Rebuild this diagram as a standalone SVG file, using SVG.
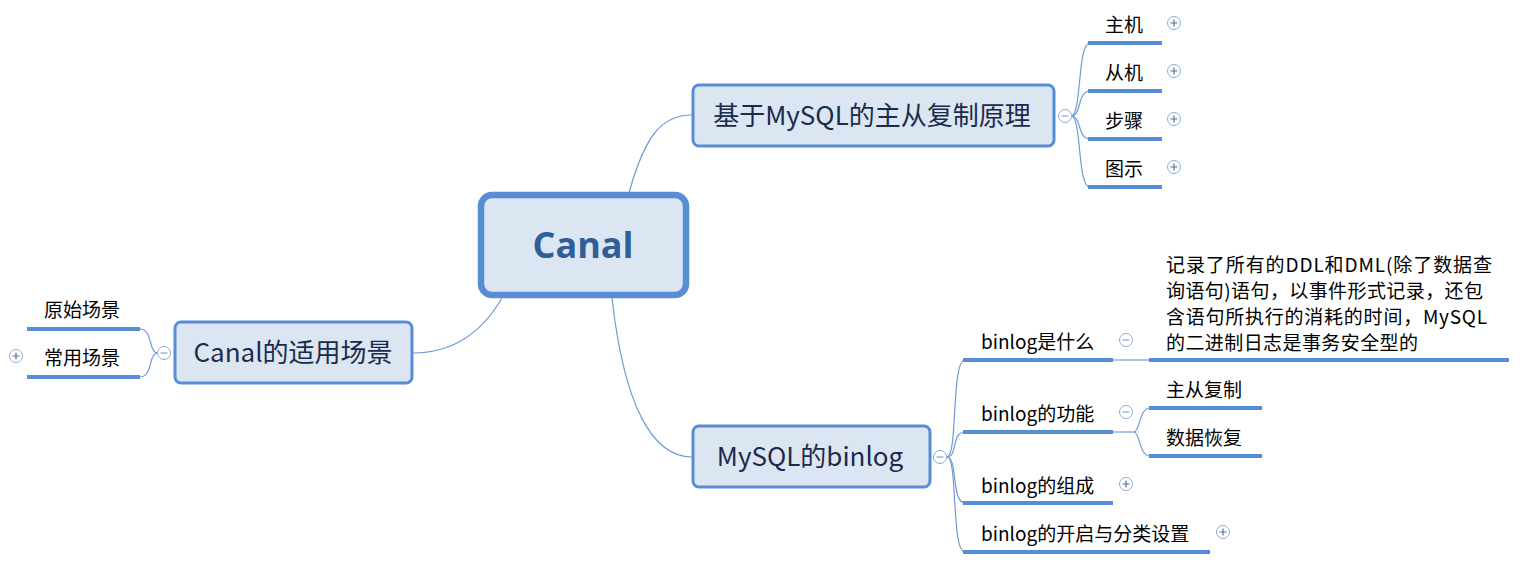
<svg xmlns="http://www.w3.org/2000/svg" width="1533" height="562" viewBox="0 0 1533 562">
<style>
.bg{fill:#ffffff}
.node rect.box{fill:#dce6f2;stroke:#588dd5;stroke-width:3}
.main{font-family:"Noto Sans CJK SC","Liberation Sans",sans-serif;font-size:26px;fill:#1a2c4c}
.root{font-family:"Open Sans","Liberation Sans",sans-serif;font-weight:bold;font-size:36px;fill:#2f5f96}
.sub{font-family:"Noto Sans CJK SC","Liberation Sans",sans-serif;font-size:19px;fill:#000000}
.ul{stroke:#558ed5;stroke-width:4;fill:none}
.conn path{fill:none;stroke:#6e9bd6;stroke-width:1.2}
.conn line.lt{stroke:#a9c3e8;stroke-width:2}
.tog circle{fill:#ffffff;stroke:#8aaedd;stroke-width:1}
.tog path{stroke:#56709a;stroke-width:1.2;fill:none}
.tog.m path{stroke:#8aa3c6}
</style>
<rect class="bg" x="0" y="0" width="1533" height="562"/>

<g id="connectors" class="conn">
  <path d="M629,193 C645,135 662,115 692,115"/>
  <path d="M502,298 C488,322 462,353 413,353"/>
  <path d="M612,298 C624,405 652,457 692,457"/>
  <path d="M1071,116 C1082,116 1077,43 1090,43"/>
  <path d="M1071,116 C1082,116 1077,91 1090,91"/>
  <path d="M1071,116 C1082,116 1077,139 1090,139"/>
  <path d="M1071,116 C1082,116 1077,187 1090,187"/>
  <path d="M158,353 C148,353 153,329 140,329"/>
  <path d="M158,353 C148,353 153,377 140,377"/>
  <path d="M947,457 C958,457 951,360 965,360"/>
  <path d="M947,457 C958,457 951,432 965,432"/>
  <path d="M947,457 C958,457 951,503 965,503"/>
  <path d="M947,457 C958,457 951,552 965,552"/>
  <line class="lt" x1="1113" y1="360" x2="1149" y2="360"/>
  <line class="lt" x1="1113" y1="432" x2="1134" y2="432"/>
  <path d="M1134,432 C1140,432 1139,408 1150,408"/>
  <path d="M1134,432 C1140,432 1139,456 1150,456"/>
</g>

<g id="node-canal" class="node">
  <rect x="481" y="195" width="205" height="100" rx="11" fill="#dce6f2" stroke="#588dd5" stroke-width="6.5"/>
  <text class="root" x="583" y="258" text-anchor="middle">Canal</text>
</g>

<g id="node-principle" class="node">
  <rect class="box" x="693" y="85" width="361" height="61" rx="6"/>
  <text class="main" x="872" y="125" text-anchor="middle">基于MySQL的主从复制原理</text>
  <g class="tog m"><circle cx="1065" cy="116" r="6.5"/><path d="M1061.5,116 H1068.5"/></g>
</g>

<g id="node-scenes" class="node">
  <rect class="box" x="175" y="322" width="237" height="61" rx="6"/>
  <text class="main" x="293" y="362" text-anchor="middle">Canal的适用场景</text>
  <g class="tog m"><circle cx="164" cy="353" r="6.5"/><path d="M160.5,353 H167.5"/></g>
</g>

<g id="node-binlog" class="node">
  <rect class="box" x="693" y="426" width="237" height="61" rx="6"/>
  <text class="main" x="810" y="466" text-anchor="middle">MySQL的binlog</text>
  <g class="tog m"><circle cx="940" cy="457" r="6.5"/><path d="M936.5,457 H943.5"/></g>
</g>

<g id="node-master">
  <text class="sub" x="1105" y="32">主机</text>
  <line class="ul" x1="1088" y1="43" x2="1162" y2="43"/>
  <g class="tog"><circle cx="1174" cy="23" r="6.5"/><path d="M1170.5,23 H1177.5 M1174,19.5 V26.5"/></g>
</g>
<g id="node-slave">
  <text class="sub" x="1105" y="80">从机</text>
  <line class="ul" x1="1088" y1="91" x2="1162" y2="91"/>
  <g class="tog"><circle cx="1174" cy="71" r="6.5"/><path d="M1170.5,71 H1177.5 M1174,67.5 V74.5"/></g>
</g>
<g id="node-steps">
  <text class="sub" x="1105" y="128">步骤</text>
  <line class="ul" x1="1088" y1="139" x2="1162" y2="139"/>
  <g class="tog"><circle cx="1174" cy="119" r="6.5"/><path d="M1170.5,119 H1177.5 M1174,115.5 V122.5"/></g>
</g>
<g id="node-figure">
  <text class="sub" x="1105" y="176">图示</text>
  <line class="ul" x1="1088" y1="187" x2="1162" y2="187"/>
  <g class="tog"><circle cx="1174" cy="167" r="6.5"/><path d="M1170.5,167 H1177.5 M1174,163.5 V170.5"/></g>
</g>

<g id="node-original">
  <text class="sub" x="44" y="317">原始场景</text>
  <line class="ul" x1="27" y1="329" x2="140" y2="329"/>
</g>
<g id="node-common">
  <text class="sub" x="44" y="365">常用场景</text>
  <line class="ul" x1="27" y1="377" x2="140" y2="377"/>
  <g class="tog"><circle cx="16" cy="356" r="6.5"/><path d="M12.5,356 H19.5 M16,352.5 V359.5"/></g>
</g>

<g id="node-what">
  <text class="sub" x="981" y="349">binlog是什么</text>
  <line class="ul" x1="963" y1="360" x2="1113" y2="360"/>
  <g class="tog m"><circle cx="1126" cy="340" r="6.5"/><path d="M1122.5,340 H1129.5"/></g>
</g>
<g id="node-what-desc">
  <text class="sub" x="1166" y="272" textLength="326" lengthAdjust="spacing">记录了所有的DDL和DML(除了数据查</text>
  <text class="sub" x="1166" y="298" textLength="317" lengthAdjust="spacing">询语句)语句，以事件形式记录，还包</text>
  <text class="sub" x="1166" y="324" textLength="321" lengthAdjust="spacing">含语句所执行的消耗的时间，MySQL</text>
  <text class="sub" x="1166" y="350" textLength="252" lengthAdjust="spacing">的二进制日志是事务安全型的</text>
  <line class="ul" x1="1149" y1="360" x2="1509" y2="360"/>
</g>
<g id="node-func">
  <text class="sub" x="981" y="421">binlog的功能</text>
  <line class="ul" x1="963" y1="432" x2="1113" y2="432"/>
  <g class="tog m"><circle cx="1126" cy="412" r="6.5"/><path d="M1122.5,412 H1129.5"/></g>
</g>
<g id="node-repl">
  <text class="sub" x="1166" y="397">主从复制</text>
  <line class="ul" x1="1149" y1="408" x2="1262" y2="408"/>
</g>
<g id="node-recover">
  <text class="sub" x="1166" y="445">数据恢复</text>
  <line class="ul" x1="1149" y1="456" x2="1262" y2="456"/>
</g>
<g id="node-compose">
  <text class="sub" x="981" y="493">binlog的组成</text>
  <line class="ul" x1="963" y1="503" x2="1113" y2="503"/>
  <g class="tog"><circle cx="1126" cy="484" r="6.5"/><path d="M1122.5,484 H1129.5 M1126,480.5 V487.5"/></g>
</g>
<g id="node-enable">
  <text class="sub" x="981" y="541">binlog的开启与分类设置</text>
  <line class="ul" x1="963" y1="552" x2="1210" y2="552"/>
  <g class="tog"><circle cx="1223" cy="532" r="6.5"/><path d="M1219.5,532 H1226.5 M1223,528.5 V535.5"/></g>
</g>
</svg>
